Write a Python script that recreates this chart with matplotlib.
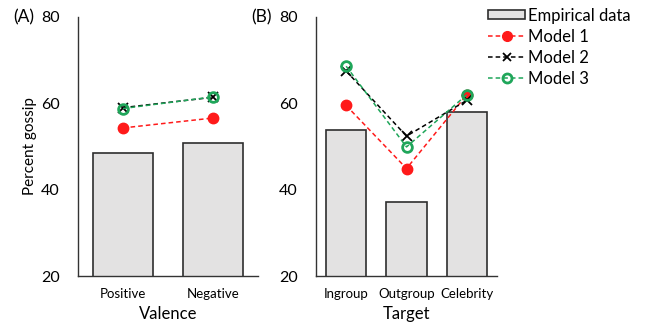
import matplotlib
matplotlib.use("Agg")
import matplotlib.pyplot as plt
from matplotlib.patches import Patch
from matplotlib.lines import Line2D

plt.rcParams['font.family'] = ['Lato', 'DejaVu Sans']

# panel A: valence
valence = ["Positive", "Negative"]
emp_a = [48.5, 50.8]
m1_a = [54.3, 56.6]
m2_a = [59.0, 61.4]
m3_a = [58.8, 61.5]

# panel B: target
target = ["Ingroup", "Outgroup", "Celebrity"]
emp_b = [53.9, 37.1, 58.0]
m1_b = [59.5, 44.9, 62.0]
m2_b = [67.5, 52.4, 60.7]
m3_b = [68.6, 49.9, 62.0]

bar_face = "#e3e2e2"
bar_edge = "#2e2e2e"
red = "#ff1a1a"
green = "#1fa65a"
dash = (3, 2)

fig = plt.figure(figsize=(6.51, 3.24), dpi=100)
ax_a = fig.add_axes([78 / 651, 48 / 324, 180 / 651, 259 / 324])
ax_b = fig.add_axes([316 / 651, 48 / 324, 181 / 651, 259 / 324])


def draw_panel(ax, cats, emp, m1, m2, m3, xlabel):
    x = list(range(len(cats)))
    ax.bar(x, emp, width=0.67, bottom=0, color=bar_face, edgecolor=bar_edge,
           linewidth=1.2, zorder=1)
    ax.plot(x, m1, color=red, linestyle="--", dashes=dash, lw=1.1,
            marker="o", ms=7.5, mfc=red, mec=red, zorder=3)
    ax.plot(x, m2, color="black", linestyle="--", dashes=dash, lw=1.1,
            marker="x", ms=6.5, mew=1.3, zorder=4)
    ax.plot(x, m3, color=green, linestyle="--", dashes=dash, lw=1.1,
            marker="o", ms=7, mfc="none", mec=green, mew=2, zorder=5)
    ax.set_xlim(-0.5, len(cats) - 0.5)
    ax.set_ylim(20, 80)
    ax.set_yticks([20, 40, 60, 80])
    ax.set_xticks(x)
    ax.set_xticklabels(cats, fontsize=9.5)
    ax.tick_params(axis="y", length=0, pad=13, labelsize=11.5)
    ax.tick_params(axis="x", length=0, pad=9)
    ax.set_xlabel(xlabel, fontsize=12, labelpad=4)
    for s in ["top", "right"]:
        ax.spines[s].set_visible(False)
    for s in ["left", "bottom"]:
        ax.spines[s].set_color("#333333")
        ax.spines[s].set_linewidth(1.0)


draw_panel(ax_a, valence, emp_a, m1_a, m2_a, m3_a, "Valence")
draw_panel(ax_b, target, emp_b, m1_b, m2_b, m3_b, "Target")
ax_a.set_ylabel("Percent gossip", fontsize=11, labelpad=3)

fig.text(13 / 651, 1 - 17 / 324, "(A)", fontsize=12.5, va="center", ha="left")
fig.text(251 / 651, 1 - 17 / 324, "(B)", fontsize=12.5, va="center", ha="left")

handles = [
    Patch(facecolor=bar_face, edgecolor=bar_edge, linewidth=1.2),
    Line2D([], [], color=red, linestyle="--", dashes=dash, lw=1.1,
           marker="o", ms=7, mfc=red, mec=red),
    Line2D([], [], color="black", linestyle="--", dashes=dash, lw=1.1,
           marker="x", ms=6, mew=1.3),
    Line2D([], [], color=green, linestyle="--", dashes=dash, lw=1.1,
           marker="o", ms=6.5, mfc="none", mec=green, mew=2),
]
labels = ["Empirical data", "Model 1", "Model 2", "Model 3"]
fig.legend(handles, labels, loc="upper left", bbox_to_anchor=(479 / 651, 1.005),
           frameon=False, fontsize=12, handlelength=2.2, handletextpad=0.2,
           labelspacing=0.3, handleheight=0.4, borderaxespad=0.15)

fig.savefig("out.png", dpi=100)
